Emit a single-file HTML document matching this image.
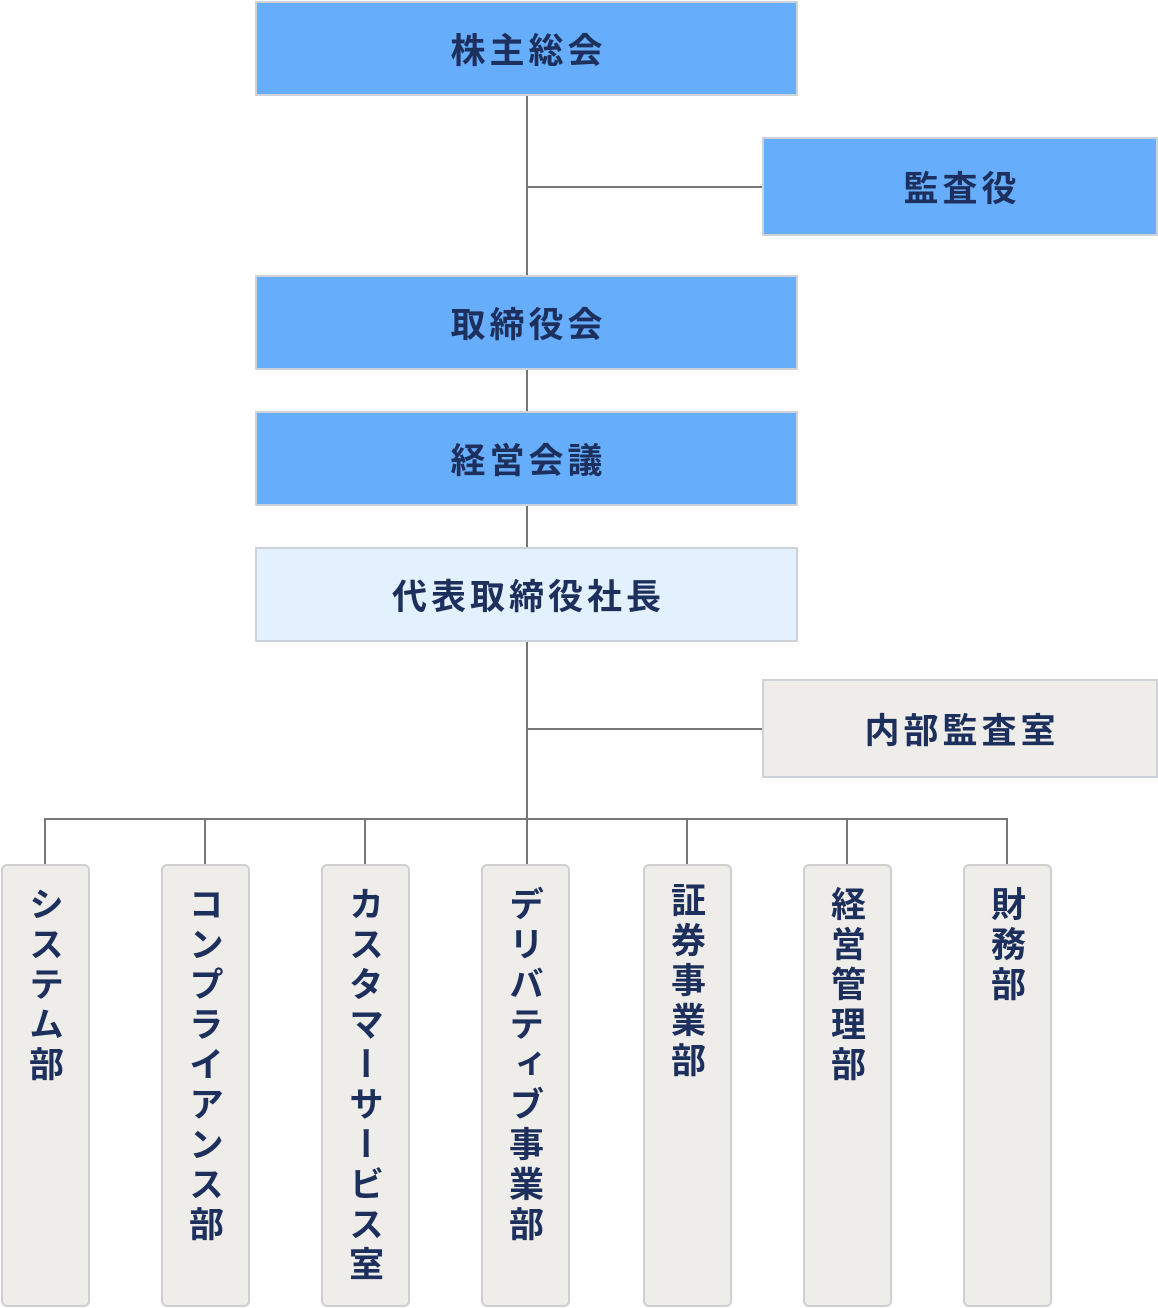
<!DOCTYPE html>
<html><head><meta charset="utf-8"><style>
body{margin:0;width:1158px;height:1308px;background:#fff;position:relative;overflow:hidden;font-family:"Liberation Sans","Noto Sans CJK JP",sans-serif;}
.b{position:absolute;box-sizing:border-box;border:2px solid #cfd2d6;display:flex;align-items:center;justify-content:center;color:#1d2f5c;font-weight:bold;font-size:35px;letter-spacing:4px;padding-left:4px;}
.blue{background:#66aefc;}
.lb{background:#e3f0fd;}
.g{background:#eeede9;}
.l{position:absolute;background:#777;}
.c{position:absolute;box-sizing:border-box;border:2px solid #cfcfcf;background:#eeede9;border-radius:6px;width:89px;top:864px;height:443px;writing-mode:vertical-rl;color:#1d2f5c;font-weight:bold;font-size:35px;line-height:89px;padding-top:20px;letter-spacing:5px;text-align:start;}
</style></head><body>
<div class="l" style="left:526px;top:95px;width:2px;height:724px"></div>
<div class="l" style="left:527px;top:186px;width:236px;height:2px"></div>
<div class="l" style="left:527px;top:728px;width:236px;height:2px"></div>
<div class="l" style="left:44px;top:818px;width:964px;height:2px"></div>
<div class="l" style="left:44px;top:818px;width:2px;height:47px"></div>
<div class="l" style="left:204px;top:818px;width:2px;height:47px"></div>
<div class="l" style="left:364px;top:818px;width:2px;height:47px"></div>
<div class="l" style="left:526px;top:818px;width:2px;height:47px"></div>
<div class="l" style="left:686px;top:818px;width:2px;height:47px"></div>
<div class="l" style="left:846px;top:818px;width:2px;height:47px"></div>
<div class="l" style="left:1006px;top:818px;width:2px;height:47px"></div>

<div class="b blue" style="left:255px;top:1px;width:543px;height:95px">株主総会</div>
<div class="b blue" style="left:762px;top:137px;width:396px;height:99px">監査役</div>
<div class="b blue" style="left:255px;top:275px;width:543px;height:95px">取締役会</div>
<div class="b blue" style="left:255px;top:411px;width:543px;height:95px">経営会議</div>
<div class="b lb" style="left:255px;top:547px;width:543px;height:95px">代表取締役社長</div>
<div class="b g" style="left:762px;top:679px;width:396px;height:99px">内部監査室</div>

<div class="c" style="left:1px">システム部</div>
<div class="c" style="left:161px">コンプライアンス部</div>
<div class="c" style="left:321px">カスタマーサービス室</div>
<div class="c" style="left:481px">デリバティブ事業部</div>
<div class="c" style="left:643px;padding-top:16px">証券事業部</div>
<div class="c" style="left:803px">経営管理部</div>
<div class="c" style="left:963px">財務部</div>
</body></html>
